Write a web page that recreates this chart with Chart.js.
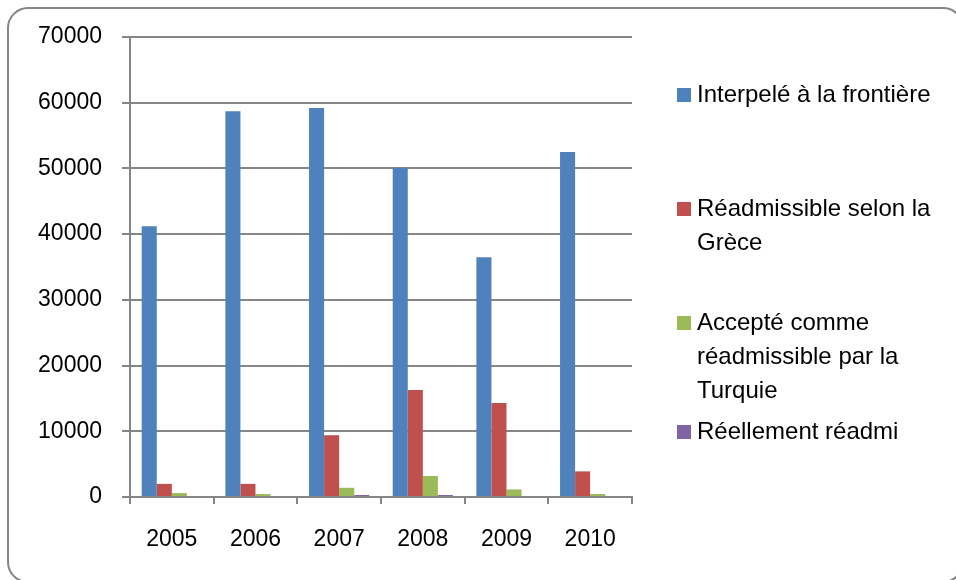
<!DOCTYPE html>
<html>
<head>
<meta charset="utf-8">
<script src="https://cdn.jsdelivr.net/npm/chart.js@4/dist/chart.umd.min.js"></script>
<style>
  html, body { margin: 0; padding: 0; background: #ffffff; }
  #wrap { position: relative; width: 956px; height: 580px; }
</style>
</head>
<body>
<div id="wrap"><canvas id="c" width="956" height="580"></canvas></div>
<script>
// ---- data ----
const categories = ["2005", "2006", "2007", "2008", "2009", "2010"];
const interpeles   = [41200, 58700, 59200, 50100, 36500, 52500];
const readmGrece   = [2000, 2000, 9400, 16300, 14300, 3900];
const acceptTurq   = [600, 450, 1400, 3200, 1150, 450];
const reellement   = [0, 0, 300, 300, 150, 0];
const seriesLabels = [
  ["Interpelé à la frontière"],
  ["Réadmissible selon la", "Grèce"],
  ["Accepté comme", "réadmissible par la", "Turquie"],
  ["Réellement réadmi"]
];
const yTicks = [0, 10000, 20000, 30000, 40000, 50000, 60000, 70000];

const colors = ["#4F81BD", "#C0504D", "#9BBB59", "#8064A2"];
const FONT = "'Liberation Sans', Arial, sans-serif";

// rounded outer frame
const framePlugin = {
  id: 'frame',
  beforeDraw(chart) {
    const ctx = chart.ctx;
    ctx.save();
    ctx.fillStyle = '#ffffff';
    ctx.fillRect(0, 0, chart.width, chart.height);
    const x = 8, y = 8, w = 955, h = 574, r = 20;
    ctx.beginPath();
    ctx.moveTo(x + r, y);
    ctx.lineTo(x + w - r, y);
    ctx.arcTo(x + w, y, x + w, y + r, r);
    ctx.lineTo(x + w, y + h - r);
    ctx.arcTo(x + w, y + h, x + w - r, y + h, r);
    ctx.lineTo(x + r, y + h);
    ctx.arcTo(x, y + h, x, y + h - r, r);
    ctx.lineTo(x, y + r);
    ctx.arcTo(x, y, x + r, y, r);
    ctx.closePath();
    ctx.lineWidth = 2;
    ctx.strokeStyle = '#868686';
    ctx.stroke();
    ctx.restore();
  }
};

// legend laid out like the original (boxes aligned with first text line)
const legendPlugin = {
  id: 'sideLegend',
  afterDraw(chart) {
    const ctx = chart.ctx;
    const firstLineY = [95, 209, 323, 432];
    const lineH = 34;
    const boxX = 677, box = 14, textX = 697;
    ctx.save();
    ctx.font = "24px " + FONT;
    ctx.textBaseline = 'middle';
    ctx.textAlign = 'left';
    chart.data.datasets.forEach((ds, i) => {
      const y0 = firstLineY[i];
      ctx.fillStyle = ds.backgroundColor;
      ctx.fillRect(boxX, y0 - box / 2, box, box);
      ctx.fillStyle = '#000000';
      seriesLabels[i].forEach((line, k) => {
        ctx.fillText(line, textX, y0 + k * lineH);
      });
    });
    ctx.restore();
  }
};

const datasetsSrc = [interpeles, readmGrece, acceptTurq, reellement];

new Chart(document.getElementById('c'), {
  type: 'bar',
  data: {
    labels: categories,
    datasets: datasetsSrc.map((d, i) => ({
      label: seriesLabels[i].join(' '),
      data: d,
      backgroundColor: colors[i],
      borderWidth: 0,
      categoryPercentage: 0.72,
      barPercentage: 1.0
    }))
  },
  options: {
    responsive: false,
    animation: false,
    devicePixelRatio: 1,
    layout: { padding: { left: 0, right: 324, top: 37, bottom: 0 } },
    plugins: {
      legend: { display: false },
      tooltip: { enabled: false },
      title: { display: false }
    },
    scales: {
      x: {
        offset: true,
        grid: {
          display: true,
          offset: true,
          drawOnChartArea: false,
          drawTicks: true,
          tickLength: 7,
          color: '#868686',
          lineWidth: 2
        },
        border: { display: true, color: '#868686', width: 2 },
        ticks: {
          color: '#000000',
          font: { family: FONT, size: 23 },
          padding: 22,
          maxRotation: 0
        },
        afterFit(scale) { scale.height = 83; }
      },
      y: {
        min: 0,
        max: 70000,
        afterBuildTicks(scale) { scale.ticks = yTicks.map(v => ({ value: v })); },
        grid: {
          color: '#868686',
          lineWidth: 2,
          drawTicks: true,
          tickLength: 8
        },
        border: { display: true, color: '#868686', width: 2 },
        ticks: {
          color: '#000000',
          font: { family: FONT, size: 23 },
          padding: 20,
          callback: (v) => String(v)
        },
        afterFit(scale) { scale.width = 130; }
      }
    }
  },
  plugins: [framePlugin, legendPlugin]
});
</script>
</body>
</html>
